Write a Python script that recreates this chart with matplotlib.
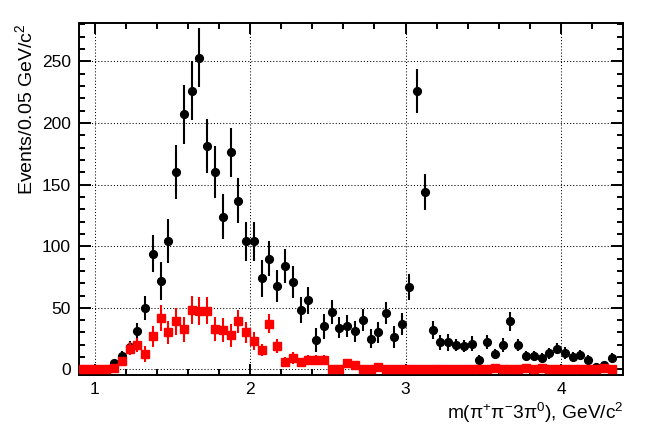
import numpy as np
import matplotlib
matplotlib.use("Agg")
import matplotlib.pyplot as plt
from matplotlib.ticker import MultipleLocator

plt.rcParams['font.family'] = ['Liberation Sans', 'DejaVu Sans']
plt.rcParams['mathtext.fontset'] = 'custom'
plt.rcParams['mathtext.rm'] = 'Liberation Sans'
plt.rcParams['mathtext.it'] = 'Liberation Sans'
plt.rcParams['mathtext.default'] = 'regular'

# Histogram binning (GeV/c^2)
bin_start = 0.90
bin_width = 0.05

# Black points: total
black_vals = [0, 0, 0, 0, 5, 11, 18, 31, 50, 94,
              72, 104, 160, 207, 226, 253, 181, 160, 124, 176,
              137, 104, 104, 74, 90, 68, 84, 71, 48, 56,
              24, 35, 46.5, 34, 35, 31, 40, 25, 30, 46,
              26.5, 37, 67, 226, 144, 32, 22, 22, 20, 19,
              21, 7.6, 22.5, 12.5, 20, 39, 20, 11, 11, 9,
              13, 17, 13.6, 10, 11.7, 7.6, 2, 3.5, 9.5]
black_errs = [0, 0, 0, 0, 3, 4, 5, 7, 10, 15,
              15.5, 18, 22, 24, 24, 24, 22, 21, 18, 20,
              18, 16, 16, 15, 14, 13, 14, 12.7, 10.4, 10.8,
              9.5, 10, 10, 8.5, 8.8, 8.5, 9, 7.8, 8.8, 8.8,
              8.8, 9.2, 10.4, 17.7, 14.7, 7.6, 6.2, 6.8, 5, 5,
              6, 4.3, 5.7, 4.3, 5.7, 7.7, 5.1, 4, 4, 4,
              4.3, 4.3, 4.7, 4, 4, 4, 3, 2.7, 4]

# Red points: background / component
red_vals = [0.5, 0.5, 0.5, 0, 1, 7, 17, 20, 12.5, 27,
            42, 30, 39, 32.5, 48, 47.5, 47.5, 33, 32, 27.6,
            39, 30, 23, 15.7, 37, 19, 6, 9, 5.7, 8,
            8, 8, 0.5, 0.5, 5, 3.5, 0.5, 0.5, 2, 0,
            0.5, 0, 0, 0.5, 0.5, 0, 0, 0, 0, 0,
            0, 0, 0, 1, 0, 0, 0, 1, 0, 1,
            0, 0, 0, 0, 0, 0, 0, 1, 0]
red_errs = [0, 0, 0, 0, 1, 3, 5.4, 5.7, 6.5, 8.4,
            10.5, 9.5, 10.8, 10, 11.2, 11.5, 11, 9.9, 9.9, 9.2,
            9.3, 8.8, 7.4, 5.1, 7.8, 6, 4, 4.9, 3.4, 3.5,
            3.5, 3.5, 0, 0, 2.5, 2, 0, 0, 1.5, 0,
            0, 0, 0, 0, 0, 0, 0, 0, 0, 0,
            0, 0, 0, 1, 0, 0, 0, 1, 0, 1,
            0, 0, 0, 0, 0, 0, 0, 1, 0]

x_major_ticks = [1, 2, 3, 4]
y_major_ticks = [0, 50, 100, 150, 200, 250]

centers = bin_start + bin_width * (np.arange(len(black_vals)) + 0.5)

fig = plt.figure(figsize=(6.56, 4.47), dpi=100)
ax = fig.add_axes([0.1204, 0.161, 0.8296, 0.7875])

ax.errorbar(centers, black_vals, yerr=black_errs, fmt='o', color='black',
            ms=5.6, elinewidth=1.5, capsize=0, zorder=3)
ax.errorbar(centers, red_vals, yerr=red_errs, fmt='s', color='#ff0000',
            ms=5.4, elinewidth=1.5, capsize=0, zorder=4)

ax.set_xlim(0.9, 4.4)
ax.set_ylim(-4.5, 281)
ax.set_xticks(x_major_ticks)
ax.set_yticks(y_major_ticks)
ax.xaxis.set_minor_locator(MultipleLocator(0.2))
ax.yaxis.set_minor_locator(MultipleLocator(10))

ax.tick_params(which='both', direction='in', top=True, right=True,
               width=1.4, labelsize=12.5)
ax.tick_params(axis='x', which='major', length=7.6, pad=5)
ax.tick_params(axis='x', which='minor', length=4.1)
ax.tick_params(axis='y', which='major', length=8.3, pad=6)
ax.tick_params(axis='y', which='minor', length=4.3)
for sp in ax.spines.values():
    sp.set_linewidth(1.4)

ax.set_axisbelow(True)
ax.grid(True, which='major', color='black', linestyle=(0, (1, 2)), linewidth=0.75)

ax.set_xlabel(r'm($\pi^{+}\pi^{-}$3$\pi^{0}$), GeV/c$^{2}$', fontsize=13.8,
              loc='right', labelpad=3)
ax.set_ylabel(r'Events/0.05 GeV/c$^{2}$', fontsize=14, loc='top', labelpad=4)

fig.savefig('out.png', dpi=100)
